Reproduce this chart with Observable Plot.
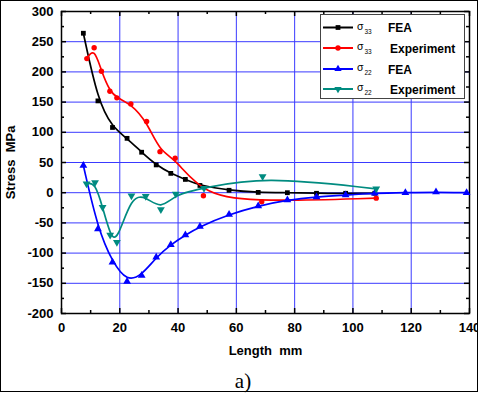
<!DOCTYPE html>
<html><head><meta charset="utf-8">
<script src="https://cdn.jsdelivr.net/npm/d3@7"></script>
<script src="https://cdn.jsdelivr.net/npm/@observablehq/plot@0.6"></script>
<style>
body{margin:0;background:#fff}
#c{width:480px;height:393px;overflow:hidden}
</style>
</head><body><div id="c"></div>
<script>
// ---- data ----
const xTicks = [0, 20, 40, 60, 80, 100, 120, 140];
const xMinor = [10, 30, 50, 70, 90, 110, 130];
const yTicks = [-200, -150, -100, -50, 0, 50, 100, 150, 200, 250, 300];
const yMinor = [-175, -125, -75, -25, 25, 75, 125, 175, 225, 275];
const xGrid = [20, 40, 60, 80, 100, 120];
const yGrid = [-150, -100, -50, 0, 50, 100, 150, 200, 250];

const feaX33 = [7.5, 12.5, 17.5, 22.5, 27.5, 32.5, 37.5, 42.5, 47.5, 57.5, 67.5, 77.5, 87.5, 97.5, 107.5];
const s33Fea = [264, 152, 108, 90, 67, 46, 32, 22, 12, 4, 0.5, 0, -1, -1, -1];

const expX33 = [8.7, 11.2, 13.7, 16.6, 19, 23.8, 29.2, 33.8, 39, 48.7, 68.7, 108];
const s33Exp = [222, 240, 201, 168, 157, 147, 118, 68, 57, -5, -15, -9];

const feaX22 = [7.5, 12.5, 17.5, 22.5, 27.5, 32.5, 37.5, 42.5, 47.5, 57.5, 67.5, 77.5, 87.5, 97.5, 107.5, 118, 128.5, 139];
const s22Fea = [45, -60, -115, -147, -137, -107, -86, -70, -56, -36, -22, -12, -7, -4, -1, 0, 1, 0];

const expX22 = [8.6, 11.5, 14.1, 16.7, 19, 24, 28.9, 34.1, 39.2, 48.9, 69, 108];
const s22Exp = [15, 17, -24, -70, -82, -5, -6, -28, -2, 7.5, 27, 6.4];

const seriesNames = ["σ33 FEA", "σ33 Experiment", "σ22 FEA", "σ22 Experiment"];
const seriesColors = ["#000000", "#ff0000", "#0000ff", "#008b80"];

// ---- tables ----
const toRows = (xs, ys) => xs.map((x, i) => ({x, y: ys[i]}));
const d33f = toRows(feaX33, s33Fea);
const d33e = toRows(expX33, s33Exp);
const d22f = toRows(feaX22, s22Fea);
const d22e = toRows(expX22, s22Exp);

const W = 480, H = 393, mL = 61, mR = 11, mT = 11, mB = 80;
const pw = W - mL - mR, ph = H - mT - mB;
const fmt = d => String(d);
const lw = 1.7;

const chart = Plot.plot({
  width: W, height: H,
  marginLeft: mL, marginRight: mR, marginTop: mT, marginBottom: mB,
  style: {fontFamily: "'Liberation Sans', Arial, sans-serif", fontSize: "13px", fontWeight: "bold", background: "white", color: "#000"},
  x: {domain: [0, 140]},
  y: {domain: [-200, 300]},
  marks: [
    Plot.ruleX(xGrid, {stroke: "#3a3aff", strokeWidth: 1}),
    Plot.ruleY(yGrid, {stroke: "#3a3aff", strokeWidth: 1}),
    Plot.frame({stroke: "#000", strokeWidth: 1.5}),
    // inward ticks
    Plot.ruleX(xTicks, {insetTop: ph - 5, stroke: "#000", strokeWidth: 1.5}),
    Plot.ruleX(xMinor, {insetTop: ph - 3, stroke: "#000", strokeWidth: 1.5}),
    Plot.ruleX(xTicks, {insetBottom: ph - 5, stroke: "#000", strokeWidth: 1.5}),
    Plot.ruleX(xMinor, {insetBottom: ph - 3, stroke: "#000", strokeWidth: 1.5}),
    Plot.ruleY(yTicks, {insetRight: pw - 5, stroke: "#000", strokeWidth: 1.5}),
    Plot.ruleY(yMinor, {insetRight: pw - 3, stroke: "#000", strokeWidth: 1.5}),
    Plot.ruleY(yTicks, {insetLeft: pw - 5, stroke: "#000", strokeWidth: 1.5}),
    Plot.ruleY(yMinor, {insetLeft: pw - 3, stroke: "#000", strokeWidth: 1.5}),
    Plot.axisX({ticks: xTicks, tickSize: 0, tickPadding: 9, tickFormat: fmt,
      label: "Length\u00a0\u00a0mm", labelAnchor: "center", labelOffset: 41, labelArrow: "none"}),
    Plot.axisY({ticks: yTicks, tickSize: 0, tickPadding: 8, tickFormat: fmt,
      label: "Stress\u00a0\u00a0MPa", labelAnchor: "center", labelOffset: 56, labelArrow: "none"}),
    // series
    Plot.line(d33f, {x: "x", y: "y", curve: "basis", stroke: seriesColors[0], strokeWidth: lw}),
    Plot.dot(d33f, {x: "x", y: "y", symbol: "square", r: 2.7, fill: seriesColors[0], stroke: "none"}),
    Plot.line(d33e, {x: "x", y: "y", curve: "basis", stroke: seriesColors[1], strokeWidth: lw}),
    Plot.dot(d33e, {x: "x", y: "y", symbol: "circle", r: 2.7, fill: seriesColors[1], stroke: "none"}),
    Plot.line(d22f, {x: "x", y: "y", curve: "basis", stroke: seriesColors[2], strokeWidth: lw}),
    Plot.dot(d22f, {x: "x", y: "y", symbol: "triangle", r: 2.9, fill: seriesColors[2], stroke: "none"}),
    Plot.line(d22e, {x: "x", y: "y", curve: "basis", stroke: seriesColors[3], strokeWidth: lw}),
    Plot.dot(d22e, {x: "x", y: "y", symbol: "triangle", rotate: 180, r: 2.9, fill: seriesColors[3], stroke: "none"})
  ]
});
document.getElementById("c").appendChild(chart);

// ---- legend (inside the plot, top right) ----
const svg = d3.select(chart);
const lg = svg.append("g").attr("text-anchor", "start");
lg.append("rect").attr("x", 320.5).attr("y", 14.5).attr("width", 144).attr("height", 84)
  .attr("fill", "#fff").attr("stroke", "#444").attr("stroke-width", 1);
const symTypes = [d3.symbolSquare, d3.symbolCircle, d3.symbolTriangle, d3.symbolTriangle];
const rowY = [27.5, 48, 69, 89];
const subs = ["33", "33", "22", "22"];
seriesNames.forEach((name, i) => {
  const y = rowY[i];
  const label = name.split(" ")[1];
  lg.append("line").attr("x1", 323).attr("x2", 353).attr("y1", y).attr("y2", y)
    .attr("stroke", seriesColors[i]).attr("stroke-width", 2);
  lg.append("path").attr("d", d3.symbol(symTypes[i], 2.7 * 2.7 * Math.PI)())
    .attr("transform", `translate(338,${y}) rotate(${i === 3 ? 180 : 0})`)
    .attr("fill", seriesColors[i]);
  const t = lg.append("text").attr("x", 357).attr("y", y + 2).attr("text-anchor", "start")
    .attr("font-family", "'Liberation Sans', Arial, sans-serif").attr("font-weight", "normal").attr("font-size", 10.5);
  t.append("tspan").text("σ");
  t.append("tspan").attr("dy", 4).attr("dx", 1).attr("font-size", 6.5).text(subs[i]);
  lg.append("text").attr("x", i % 2 === 0 ? 388 : 390).attr("y", y + 4.5).attr("text-anchor", "start")
    .attr("font-family", "'Liberation Sans', Arial, sans-serif").attr("font-weight", "bold").attr("font-size", 12)
    .attr("fill", "#000").text(label);
});

// caption and outer border
svg.append("text").attr("x", 243).attr("y", 388).attr("text-anchor", "middle")
  .attr("font-family", "'Liberation Serif', 'Times New Roman', serif").attr("font-weight", "normal")
  .attr("font-size", 21).attr("fill", "#000").text("a)");
svg.append("rect").attr("x", 478).attr("y", 0).attr("width", 2).attr("height", H).attr("fill", "#fff");
svg.append("rect").attr("x", 0.5).attr("y", 0.5).attr("width", 477).attr("height", 391)
  .attr("fill", "none").attr("stroke", "#000").attr("stroke-width", 1);
</script>
</body></html>
